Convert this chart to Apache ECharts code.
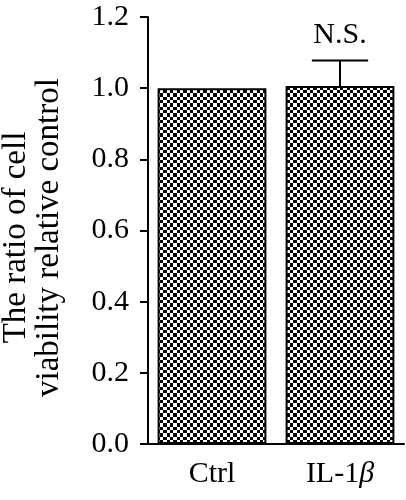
<!DOCTYPE html>
<html>
<head>
<meta charset="utf-8">
<script src="https://cdn.jsdelivr.net/npm/echarts@6/dist/echarts.min.js"></script>
<style>
html,body{margin:0;padding:0;background:#fff;}
#chart{width:406px;height:500px;}
</style>
</head>
<body>
<div id="chart"></div>
<script>
const categories = ['Ctrl', 'IL-1β'];
const means = [1.0, 1.006];
const errors = [0, 0.072];
const sigLabels = ['', 'N.S.'];
const yTicks = [0, 0.2, 0.4, 0.6, 0.8, 1.0, 1.2];
const yTitle = 'The ratio of cell\nviability relative control';

const FONT = 'Liberation Serif';

// checkerboard pattern (period ~6.67px)
const tile = document.createElement('canvas');
tile.width = 20; tile.height = 20;
const tc = tile.getContext('2d');
tc.fillStyle = '#ffffff'; tc.fillRect(0, 0, 20, 20);
tc.fillStyle = '#000000';
const edges = [0, 3, 7, 10, 13, 17, 20];
for (let i = 0; i < 6; i++) {
  for (let j = 0; j < 6; j++) {
    if ((i + j) % 2 === 0) {
      tc.fillRect(edges[i], edges[j], edges[i + 1] - edges[i], edges[j + 1] - edges[j]);
    }
  }
}

const chart = echarts.init(document.getElementById('chart'), null, {renderer: 'canvas'});

const errData = categories.map((c, i) => [i, means[i], errors[i]]);

chart.setOption({
  animation: false,
  backgroundColor: '#ffffff',
  grid: {left: 148, right: 2, top: 17, bottom: 56, containLabel: false, outerBoundsMode: 'none'},
  xAxis: {
    type: 'category',
    data: categories,
    axisLine: {lineStyle: {color: '#000', width: 2}},
    axisTick: {alignWithLabel: true, length: 9, lineStyle: {color: '#000', width: 2}},
    axisLabel: {
      interval: 0,
      margin: 15,
      color: '#000',
      fontFamily: FONT,
      fontSize: 30,
      formatter: function (v) {
        if (v.indexOf('β') >= 0) return '{n|' + v.replace('β', '') + '}{g|β}';
        return '{n|' + v + '}';
      },
      rich: {
        n: {fontFamily: FONT, fontSize: 30, color: '#000'},
        g: {fontFamily: FONT, fontSize: 30, fontStyle: 'italic', color: '#000'}
      }
    }
  },
  yAxis: {
    type: 'value',
    min: yTicks[0],
    max: yTicks[yTicks.length - 1],
    interval: 0.2,
    splitLine: {show: false},
    axisLine: {show: true, lineStyle: {color: '#000', width: 2}},
    axisTick: {show: true, length: 8, lineStyle: {color: '#000', width: 2}},
    axisLabel: {
      margin: 19,
      color: '#000',
      fontFamily: FONT,
      fontSize: 30,
      formatter: v => v.toFixed(1)
    },
    name: yTitle,
    nameLocation: 'middle',
    nameRotate: 90,
    nameGap: 82,
    nameTextStyle: {fontFamily: FONT, fontSize: 33, color: '#000', lineHeight: 33, align: 'center', padding: [0, 14, 0, 0]}
  },
  series: [
    {
      type: 'bar',
      data: means,
      barWidth: '85%',
      itemStyle: {
        color: {image: tile, repeat: 'repeat'},
        borderColor: '#000',
        borderWidth: 2
      },
      z: 2
    },
    {
      type: 'custom',
      data: errData,
      z: 3,
      renderItem: function (params, api) {
        const idx = api.value(0);
        const m = api.value(1);
        const e = api.value(2);
        const lab = sigLabels[params.dataIndex];
        const base = api.coord([idx, m]);
        const top = api.coord([idx, m + e]);
        const half = api.size([1, 0])[0] * 0.22;
        const children = [];
        if (e > 0) {
          children.push({type: 'line', shape: {x1: top[0], y1: top[1], x2: base[0], y2: base[1]}, style: {stroke: '#000', lineWidth: 2}});
          children.push({type: 'line', shape: {x1: top[0] - half, y1: top[1], x2: top[0] + half, y2: top[1]}, style: {stroke: '#000', lineWidth: 2}});
        }
        if (lab) {
          children.push({type: 'text', style: {text: lab, x: top[0], y: top[1] - 10, align: 'center', verticalAlign: 'bottom', font: '30px "' + FONT + '"', fill: '#000'}});
        }
        return {type: 'group', children: children};
      }
    }
  ]
});
</script>
</body>
</html>
